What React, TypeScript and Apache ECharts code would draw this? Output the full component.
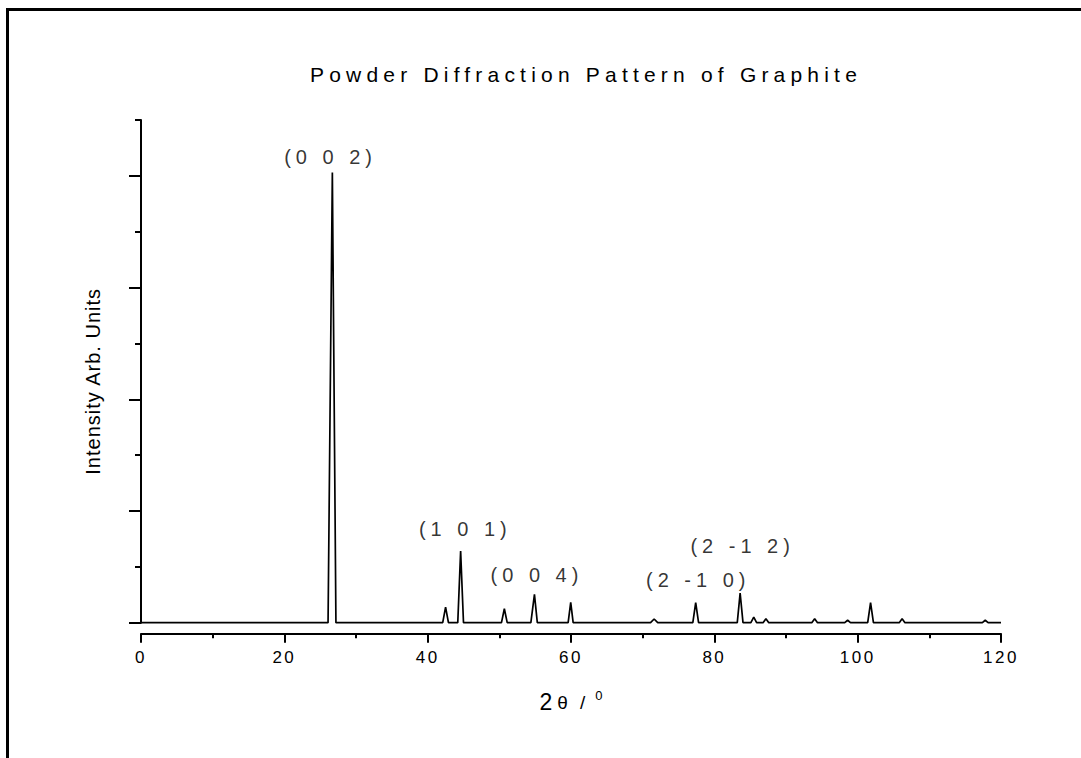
import React, { useEffect, useRef } from "react";
import * as echarts from "echarts";

// 2θ positions (degrees) and intensities (arb. units) of the diffraction trace
const twoTheta = [
  0, 26.1, 26.7, 27.2, 42.1, 42.5, 42.9, 44.2, 44.6, 45.0, 50.3, 50.7, 51.1,
  54.4, 54.9, 55.3, 59.6, 59.96, 60.3, 71.1, 71.6, 72.1, 77.0, 77.4, 77.8,
  83.2, 83.6, 84.0, 85.1, 85.5, 85.9, 86.8, 87.2, 87.6, 93.6, 94.0, 94.4,
  98.2, 98.6, 99.0, 101.4, 101.8, 102.2, 105.8, 106.2, 106.6, 117.4, 117.8,
  118.2, 120,
];
const intensity = [
  0, 0, 4030, 0, 0, 140, 0, 0, 641, 0, 0, 125, 0,
  0, 253, 0, 0, 182, 0, 0, 33, 0, 0, 179, 0,
  0, 265, 0, 0, 50, 0, 0, 36, 0, 0, 36, 0,
  0, 22, 0, 0, 179, 0, 0, 36, 0, 0, 22,
  0, 0,
];

// Miller-index annotations: label, 2θ position, label height (intensity units)
const peakNames = ["(0 0 2)", "(1 0 1)", "(0 0 4)", "(2 -1 0)", "(2 -1 2)"];
const peakPos = [26.1, 44.9, 54.9, 77.4, 83.6];
const peakLabelY = [4169, 838, 427, 382, 687];

// Y-axis ticks (no labels shown)
const yMajorTicks = [0, 1000, 2000, 3000, 4000];
const yMinorTicks = [500, 1500, 2500, 3500, 4500];

const titleText = "Powder Diffraction Pattern of Graphite";
const yName = "Intensity Arb. Units";

const FONT_TITLE = "Liberation Sans, Helvetica, sans-serif";
const FONT_WIDE = "Liberation Sans, Tahoma, sans-serif";
const FONT_MID = "Liberation Sans, Arial, sans-serif";
const FONT_Y = "Liberation Sans, Verdana, sans-serif";
const FONT_PLAIN = "Liberation Sans, sans-serif";

const css = `
#chartbox text[style*="Helvetica"] { letter-spacing: 5.2px; }
#chartbox text[style*="Tahoma"] { letter-spacing: 5px; }
#chartbox text[style*="Arial"] { letter-spacing: 2.5px; }
#chartbox text[style*="Verdana"] { letter-spacing: 1px; }
`;

export default function App() {
  const ref = useRef<HTMLDivElement>(null);
  useEffect(() => {
    const chart = echarts.init(ref.current as HTMLDivElement, null, { renderer: "svg" });
    const traceData = twoTheta.map((x, i) => [x, intensity[i]]);
    const labelData = peakNames.map((n, i) => ({ name: n, value: [peakPos[i], peakLabelY[i]] }));
    chart.setOption({
      animation: false,
      backgroundColor: "#fff",
      title: {
        text: titleText,
        left: 586,
        top: 64,
        textAlign: "center",
        padding: 0,
        textStyle: { fontFamily: FONT_TITLE, fontSize: 21, fontWeight: "normal", color: "#000" },
      },
      grid: { left: 141, right: 80, top: 120, bottom: 135.3, containLabel: false },
      xAxis: {
        type: "value",
        min: 0,
        max: 120,
        interval: 20,
        offset: 11,
        position: "bottom",
        name: "{a|2}{b|θ}{c|/}{d|0}",
        nameLocation: "middle",
        nameGap: 55,
        nameTextStyle: {
          color: "#000",
          fontFamily: FONT_PLAIN,
          rich: {
            a: { fontSize: 23, fontFamily: FONT_PLAIN, color: "#000", padding: [0, 5, 0, 0] },
            b: { fontSize: 19, fontFamily: FONT_PLAIN, color: "#000", padding: [0, 12, 0, 0] },
            c: { fontSize: 19, fontFamily: FONT_PLAIN, color: "#000", padding: [0, 10, 0, 0] },
            d: { fontSize: 13, fontFamily: FONT_PLAIN, color: "#000", padding: [0, 0, 14, 0] },
          },
        },
        axisLine: { show: true, onZero: false, lineStyle: { color: "#000", width: 2 } },
        axisTick: { show: true, inside: false, length: 9, lineStyle: { color: "#000", width: 2 } },
        minorTick: { show: true, splitNumber: 2, length: 4.5, lineStyle: { color: "#000", width: 2 } },
        axisLabel: { show: true, margin: 15, color: "#000", fontSize: 17, fontFamily: FONT_MID },
        splitLine: { show: false },
        minorSplitLine: { show: false },
      },
      yAxis: [
        {
          type: "value",
          min: 0,
          max: 4500,
          position: "left",
          name: yName,
          nameLocation: "middle",
          nameGap: 38,
          nameTextStyle: { color: "#000", fontFamily: FONT_Y, fontSize: 20, padding: [0, 20, 0, 0] },
          axisLine: { show: true, onZero: false, lineStyle: { color: "#000", width: 2 } },
          axisTick: { show: true, inside: false, length: 12, customValues: yMajorTicks, lineStyle: { color: "#000", width: 2 } },
          axisLabel: { show: false },
          splitLine: { show: false },
        },
        {
          type: "value",
          min: 0,
          max: 4500,
          position: "left",
          axisLine: { show: false },
          axisTick: { show: true, inside: false, length: 6, customValues: yMinorTicks, lineStyle: { color: "#000", width: 2 } },
          axisLabel: { show: false },
          splitLine: { show: false },
        },
      ],
      graphic: [
        {
          type: "rect",
          shape: { x: 7.5, y: 9.5, width: 1200, height: 1000 },
          style: { fill: "none", stroke: "#000", lineWidth: 3 },
          silent: true,
        },
      ],
      series: [
        {
          type: "line",
          data: traceData,
          xAxisIndex: 0,
          yAxisIndex: 0,
          showSymbol: false,
          symbol: "none",
          lineStyle: { color: "#000", width: 1.7 },
          silent: true,
          clip: false,
        },
        {
          type: "scatter",
          data: labelData,
          xAxisIndex: 0,
          yAxisIndex: 0,
          symbolSize: 0,
          itemStyle: { color: "#000" },
          silent: true,
          label: {
            show: true,
            position: "top",
            distance: -10,
            offset: [2.5, 0],
            formatter: "{b}",
            color: "#000",
            fontSize: 20,
            fontFamily: FONT_WIDE,
          },
        },
      ],
    });
    return () => chart.dispose();
  }, []);
  return (
    <>
      <style>{css}</style>
      <div
        id="chartbox"
        ref={ref}
        style={{ position: "fixed", left: 0, top: 0, width: 1081, height: 758, background: "#fff" }}
      />
    </>
  );
}
